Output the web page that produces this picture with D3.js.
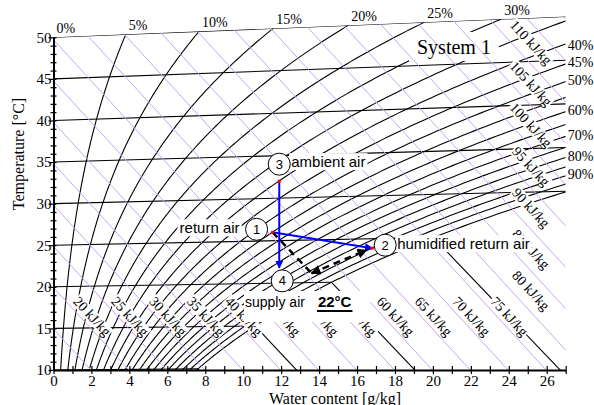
<!DOCTYPE html>
<html>
<head>
<meta charset="utf-8">
<script src="https://cdn.jsdelivr.net/npm/d3@7"></script>
<style>
  body { margin: 0; background: #fff; }
  svg { display: block; }
</style>
</head>
<body>
<script>
var width = 594, height = 405;

// grid of the h-x chart
var rhLevels = [5, 10, 15, 20, 25, 30, 35, 40, 45, 50, 55, 60, 65, 70, 75, 80, 85, 90, 95, 100];
var rhTopLabels = [0, 5, 10, 15, 20, 25, 30];
var rhRightLabels = [40, 45, 50, 60, 70, 80, 90];
var isotherms = [10, 15, 20, 25, 30, 35, 40, 45, 50];
var enthalpyLines = [15, 20, 25, 30, 35, 40, 45, 50, 55, 60, 65, 70, 75, 80, 85, 90, 95, 100, 105, 110, 115, 120, 125];
var enthalpyLabelsLow = [20, 25, 30, 35, 40, 45, 50, 55, 60, 65, 70, 75];
var enthalpyLabelsHigh = [80, 85, 90, 95, 100, 105, 110];

// process states, [water content g/kg, temperature °C]
var ambientAir = [11.9, 32.0];
var returnAir = [11.55, 26.0];
var supplyAir = [11.9, 21.8];
var humidifiedAir = [16.8, 23.9];
var dashCorner = [13.6, 21.1];
var dashEnd = [16.5, 23.7];

var svg = d3.select("body").append("svg")
    .attr("width", width)
    .attr("height", height);

var xS = d3.scaleLinear().domain([0, 27]).range([53.5, 565.7]);
var yS = d3.scaleLinear().domain([10, 50]).range([370, 37.3]);

function pSat(T) { return 611.2 * Math.exp(17.62 * T / (243.12 + T)); }
function waterContent(phi, T) { var p = phi * pSat(T); return 622 * p / (101325 - p); }
// skewed Mollier ordinate, equal to T on the x = 0 axis
function chartY(x, T) { return T * (1.006 + 0.00186 * x) / 1.006; }
function enthalpyY(h, x) { return (h - 2.501 * x) / 1.006; }

var line = d3.line().x(function (d) { return xS(d[0]); }).y(function (d) { return yS(d[1]); });

var defs = svg.append("defs");
defs.append("clipPath").attr("id", "area").append("path")
    .attr("d", line([[0, 10], [0, 50], [27, chartY(27, 50)], [27, 10]]) + "Z");

function marker(id, color) {
    defs.append("marker").attr("id", id)
        .attr("viewBox", "0 0 10 10").attr("refX", 9).attr("refY", 5)
        .attr("markerWidth", 4).attr("markerHeight", 4)
        .attr("orient", "auto-start-reverse")
        .append("path").attr("d", "M0,0L10,5L0,10z").attr("fill", color);
}
marker("arrowBlue", "#0000ff");
marker("arrowBlack", "#000");

// relative humidity curves
function rhCurve(phi) {
    var pts = [], prevT = null, prevX = null;
    for (var T = 8; T <= 50; T += 0.25) {
        var x = waterContent(phi, T);
        if (x > 27) {
            var t = (27 - prevX) / (x - prevX);
            var Te = prevT + t * 0.25;
            pts.push([27, chartY(27, Te)]);
            break;
        }
        pts.push([x, chartY(x, T)]);
        prevT = T; prevX = x;
    }
    return pts;
}

var grid = svg.append("g").attr("clip-path", "url(#area)")
    .attr("fill", "none").attr("stroke", "#000").attr("stroke-width", 1.1);

var curveEnds = {};
rhLevels.forEach(function (rh) {
    var pts = rhCurve(rh / 100);
    curveEnds[rh] = pts[pts.length - 1];
    grid.append("path").attr("d", line(pts));
});

// isotherms and fog isotherms
isotherms.forEach(function (T) {
    var xs = waterContent(1, T);
    var xe = Math.min(xs, 27);
    grid.append("path").attr("d", line([[0, chartY(0, T)], [xe, chartY(xe, T)]]));
    if (xs < 27) {
        var hs = 1.006 * T + 2.501 * xs + 0.00186 * xs * T;
        var y27 = (hs + (27 - xs) * 0.00419 * T - 2.501 * 27) / 1.006;
        grid.append("path").attr("d", line([[xs, chartY(xs, T)], [27, y27]]));
    }
});

// enthalpy labels
var ang = Math.atan2(yS(enthalpyY(100, 1)) - yS(enthalpyY(100, 0)), xS(1) - xS(0)) * 180 / Math.PI;
var labelBoxes = svg.append("g");
var purple = svg.append("g").attr("clip-path", "url(#area)")
    .attr("fill", "none").attr("stroke", "#caa4f7").attr("stroke-width", 1);
var labelTexts = svg.append("g")
    .style("font-family", "'Liberation Serif', 'Times New Roman', serif")
    .style("font-size", "14px");

function enthalpyLabel(h, x, Y, dy) {
    var g = labelTexts.append("g")
        .attr("transform", "translate(" + xS(x) + "," + yS(Y) + ") rotate(" + ang + ")");
    var t = g.append("text").attr("text-anchor", "middle").attr("dy", dy).text(h + " kJ/kg");
    var bb = t.node().getBBox();
    labelBoxes.append("rect")
        .attr("transform", g.attr("transform"))
        .attr("x", bb.x - 1).attr("y", bb.y + 1)
        .attr("width", bb.width + 2).attr("height", bb.height - 2)
        .attr("fill", "#fff");
}
enthalpyLabelsLow.forEach(function (h) {
    var Y = 15.7;
    enthalpyLabel(h, (h - 1.006 * Y) / 2.501, Y, -4.5);
});
enthalpyLabelsHigh.forEach(function (h) {
    var x = 24.6;
    enthalpyLabel(h, x, enthalpyY(h, x), -10);
});

enthalpyLines.forEach(function (h) {
    purple.append("path").attr("d", line([[0, enthalpyY(h, 0)], [27, enthalpyY(h, 27)]]));
});

// relative humidity labels
rhTopLabels.forEach(function (rh) {
    var x = rh === 0 ? 0 : waterContent(rh / 100, 50);
    labelTexts.append("text")
        .attr("x", xS(x) + 3).attr("y", yS(chartY(x, 50)) - 4)
        .text(rh + "%");
});
rhRightLabels.forEach(function (rh) {
    var e = curveEnds[rh];
    labelTexts.append("text")
        .attr("x", xS(e[0]) + 2).attr("y", yS(e[1]) + (rh === 40 ? 3 : 0))
        .attr("dominant-baseline", "middle")
        .text(rh + "%");
});

// "System 1" title
var sys = labelTexts.append("text").attr("x", 417).attr("y", 54)
    .style("font-size", "20px").text("System 1");
var sb = sys.node().getBBox();
labelBoxes.append("rect").attr("x", sb.x - 8).attr("y", sb.y - 4)
    .attr("width", sb.width + 16).attr("height", sb.height + 6).attr("fill", "#fff");

// axes
var serif = "'Liberation Serif', 'Times New Roman', serif";
var xAxis = svg.append("g").attr("transform", "translate(0," + yS(10) + ")")
    .call(d3.axisBottom(xS).tickValues(d3.range(0, 28, 1)).tickSizeOuter(0)
        .tickFormat(function (d) { return d % 2 === 0 ? d : ""; }));
xAxis.select(".domain").attr("stroke-width", 2);
xAxis.selectAll(".tick line").attr("y1", -4).attr("y2", 4).attr("stroke-width", 1.2);
xAxis.selectAll(".tick text").attr("y", 5.5).style("font-family", serif).style("font-size", "15px");

var yAxis = svg.append("g").attr("transform", "translate(" + xS(0) + ",0)")
    .call(d3.axisLeft(yS).tickValues(d3.range(10, 51, 1)).tickSizeOuter(0)
        .tickFormat(function (d) { return d % 5 === 0 ? d : ""; }));
yAxis.select(".domain").attr("stroke-width", 2);
yAxis.selectAll(".tick line").attr("x1", 3)
    .attr("x2", function (d) { return d % 5 === 0 ? -5 : -3; }).attr("stroke-width", 1.2);
yAxis.selectAll(".tick text").attr("x", -2).style("font-family", serif).style("font-size", "15px");

svg.append("text").attr("x", 335).attr("y", 403.5).attr("text-anchor", "middle")
    .style("font-family", serif).style("font-size", "16px").text("Water content [g/kg]");
svg.append("text").attr("transform", "translate(24,154) rotate(-90)").attr("text-anchor", "middle")
    .style("font-family", serif).style("font-size", "16px").text("Temperature [°C]");

// process
function P(s) { return [xS(s[0]), yS(chartY(s[0], s[1]))]; }
var proc = svg.append("g");
var sans = "'Liberation Sans', Arial, sans-serif";
var ann = svg.append("g").style("font-family", sans).style("font-size", "15px");

function boxedText(x, y, str, anchor) {
    var t = ann.append("text").attr("x", x).attr("y", y).attr("dominant-baseline", "middle")
        .attr("text-anchor", anchor || "start").text(str);
    var b = t.node().getBBox();
    ann.insert("rect", "text").attr("x", b.x - 2).attr("y", b.y)
        .attr("width", b.width + 4).attr("height", b.height).attr("fill", "#fff");
    return t;
}

var p3 = P(ambientAir), p1 = P(returnAir), p4 = P(supplyAir), p2 = P(humidifiedAir);
var pc = P(dashCorner), pe = P(dashEnd);

// supply air label with big white box
var sx = 245, sy = 307;
ann.append("rect").attr("x", sx - 1).attr("y", sy - 16).attr("width", 126).attr("height", 31).attr("fill", "#fff");
var s1 = ann.append("text").attr("x", sx).attr("y", sy).style("font-size", "14px").text("supply air");
var w1 = s1.node().getComputedTextLength() + 13;
var s2 = ann.append("text").attr("x", sx + w1).attr("y", sy).style("font-weight", "bold").text("22°C");
var w2 = s2.node().getComputedTextLength();
ann.append("line").attr("x1", sx + w1 - 1).attr("x2", sx + w1 + w2 + 1)
    .attr("y1", sy + 4).attr("y2", sy + 4).attr("stroke", "#000").attr("stroke-width", 2);

boxedText(p3[0] + 12, p3[1] - 18, "ambient air");
boxedText(p1[0] - 33, p1[1] - 3, "return air", "end");
boxedText(p2[0] + 25, p2[1] - 3, "humidified return air");

proc.raise();
proc.append("path").attr("d", "M" + p3 + "L" + p4)
    .attr("stroke", "#0000ff").attr("stroke-width", 2).attr("fill", "none")
    .attr("marker-end", "url(#arrowBlue)");
proc.append("path").attr("d", "M" + p1 + "L" + p2)
    .attr("stroke", "#0000ff").attr("stroke-width", 2).attr("fill", "none")
    .attr("marker-end", "url(#arrowBlue)");
proc.append("path").attr("d", "M" + p1 + "L" + pc)
    .attr("stroke", "#000").attr("stroke-width", 2.5).attr("stroke-dasharray", "7,5").attr("fill", "none");
proc.append("path").attr("d", "M" + pc + "L" + pe)
    .attr("stroke", "#000").attr("stroke-width", 2.5).attr("stroke-dasharray", "7,5").attr("fill", "none")
    .attr("marker-start", "url(#arrowBlack)").attr("marker-end", "url(#arrowBlack)");
[p3, p1, p2].forEach(function (p) {
    proc.append("rect").attr("x", p[0] - 1.5).attr("y", p[1] - 1.5)
        .attr("width", 3).attr("height", 3).attr("fill", "#ff0000");
});

function numCircle(cx, cy, n) {
    var g = svg.append("g");
    g.append("circle").attr("cx", cx).attr("cy", cy).attr("r", 11)
        .attr("fill", "#fff").attr("stroke", "#000").attr("stroke-width", 1);
    g.append("text").attr("x", cx).attr("y", cy).attr("text-anchor", "middle")
        .attr("dominant-baseline", "central")
        .style("font-family", sans).style("font-size", "13px").text(n);
}
numCircle(p3[0], p3[1] - 17, "3");
numCircle(p1[0] - 16, p1[1] - 3, "1");
numCircle(p2[0] + 13, p2[1] - 3, "2");
numCircle(p4[0] + 3, p4[1] + 13, "4");
</script>
</body>
</html>
